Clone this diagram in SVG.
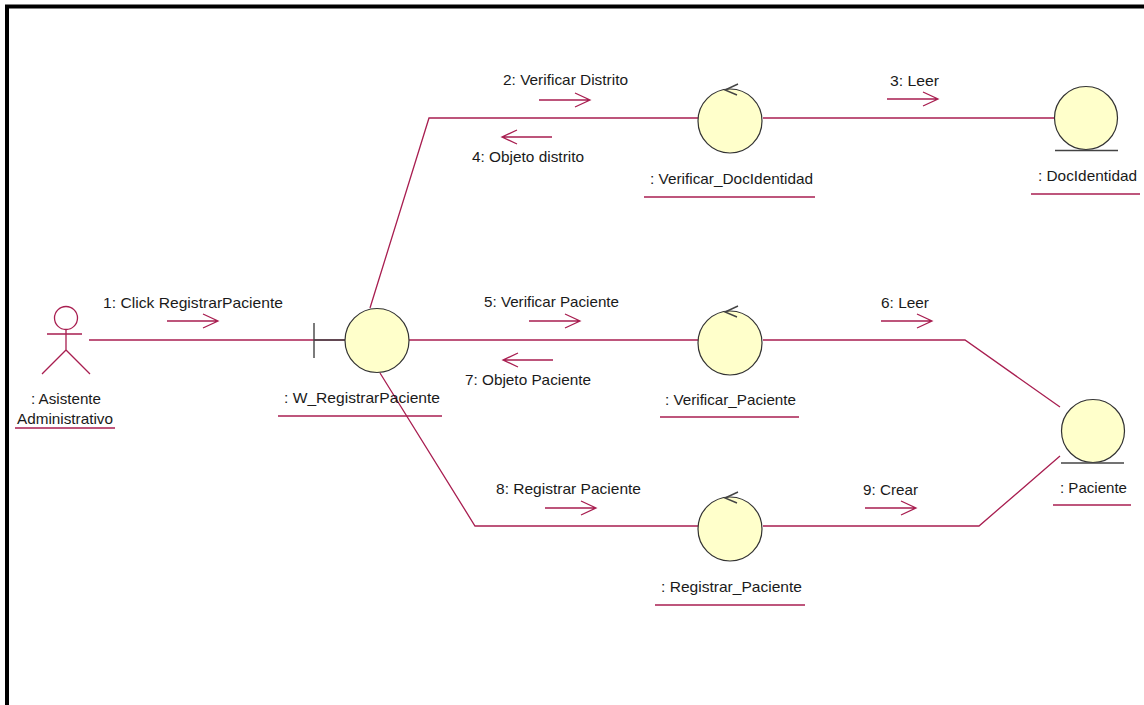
<svg xmlns="http://www.w3.org/2000/svg" width="1144" height="705" viewBox="0 0 1144 705">
<style>
text{font-family:"Liberation Sans",Arial,sans-serif;font-size:15px;fill:#1a1a1a}
.c{fill:none;stroke:#a81e50;stroke-width:1.3}
.u{stroke:#a81e50;stroke-width:1.3}
.o{fill:#ffffcb;stroke:#333;stroke-width:1.2}
.k{fill:none;stroke:#444;stroke-width:1.4}
</style>
<defs>
<path id="ar" class="c" d="M0 0H51M36 -7L51 0L36 7"/>
<path id="al" class="c" d="M0 0H-50M-35 -7L-50 0L-35 7"/>
</defs>
<rect width="1144" height="705" fill="#fff"/>
<path d="M7 705V6.500H1144" fill="none" stroke="#000" stroke-width="4"/>
<g id="connectors">
<path class="c" d="M89 340H345"/>
<path class="c" d="M370 308L429 118H698"/>
<path class="c" d="M763 118H1054"/>
<path class="c" d="M409 340H698"/>
<path class="c" d="M763 340H965L1060 407"/>
<path class="c" d="M380 373L475 526H698"/>
<path class="c" d="M763 526H979L1060 456"/>
<use href="#ar" x="167" y="321"/><text x="103" y="308" textLength="180" lengthAdjust="spacingAndGlyphs">1: Click RegistrarPaciente</text>
<use href="#ar" x="539" y="100"/><text x="503" y="85" textLength="125" lengthAdjust="spacingAndGlyphs">2: Verificar Distrito</text>
<use href="#al" x="552" y="137"/><text x="472" y="162" textLength="112" lengthAdjust="spacingAndGlyphs">4: Objeto distrito</text>
<use href="#ar" x="887" y="99"/><text x="890" y="86" textLength="49" lengthAdjust="spacingAndGlyphs">3: Leer</text>
<use href="#ar" x="529" y="321"/><text x="484" y="307" textLength="135" lengthAdjust="spacingAndGlyphs">5: Verificar Paciente</text>
<use href="#al" x="553" y="360"/><text x="465" y="385" textLength="126" lengthAdjust="spacingAndGlyphs">7: Objeto Paciente</text>
<use href="#ar" x="881" y="321"/><text x="881" y="308" textLength="48" lengthAdjust="spacingAndGlyphs">6: Leer</text>
<use href="#ar" x="545" y="508"/><text x="496" y="494" textLength="145" lengthAdjust="spacingAndGlyphs">8: Registrar Paciente</text>
<use href="#ar" x="865" y="508"/><text x="863" y="495" textLength="55" lengthAdjust="spacingAndGlyphs">9: Crear</text>
</g>
<g id="actor">
<circle cx="66" cy="318" r="11.500" fill="none" class="u"/>
<path class="c" d="M66 330V350M47 334H82M42 374L66 350L90 374"/>
<text x="31" y="404" textLength="70" lengthAdjust="spacingAndGlyphs">: Asistente</text>
<text x="17" y="424" textLength="96" lengthAdjust="spacingAndGlyphs">Administrativo</text>
<path class="u" d="M15 428H115"/>
</g>
<g id="w-registrar">
<path class="k" d="M314 323V358M314 340H345"/>
<circle class="o" cx="377" cy="340.500" r="32"/>
<text x="284" y="403" textLength="156" lengthAdjust="spacingAndGlyphs">: W_RegistrarPaciente</text>
<path class="u" d="M278 416H442"/>
</g>
<g id="verificar-doc">
<circle class="o" cx="730" cy="121" r="32"/>
<path class="k" d="M738 84L725 90L737 95"/>
<text x="650" y="184" textLength="163" lengthAdjust="spacingAndGlyphs">: Verificar_DocIdentidad</text>
<path class="u" d="M644 197H815"/>
</g>
<g id="doc">
<circle class="o" cx="1086" cy="118" r="31.500"/>
<path class="k" d="M1055 150.500H1118"/>
<text x="1038" y="181" textLength="99" lengthAdjust="spacingAndGlyphs">: DocIdentidad</text>
<path class="u" d="M1031 194H1140"/>
</g>
<g id="verificar-paciente">
<circle class="o" cx="730" cy="343" r="32"/>
<path class="k" d="M738 306L725 312L737 317"/>
<text x="665" y="405" textLength="131" lengthAdjust="spacingAndGlyphs">: Verificar_Paciente</text>
<path class="u" d="M660 417H799"/>
</g>
<g id="paciente">
<circle class="o" cx="1093" cy="431" r="31.500"/>
<path class="k" d="M1061 463H1124"/>
<text x="1060" y="493" textLength="67" lengthAdjust="spacingAndGlyphs">: Paciente</text>
<path class="u" d="M1053 505H1131"/>
</g>
<g id="registrar-paciente">
<circle class="o" cx="730" cy="529" r="32"/>
<path class="k" d="M738 492L725 498L737 503"/>
<text x="661" y="592" textLength="141" lengthAdjust="spacingAndGlyphs">: Registrar_Paciente</text>
<path class="u" d="M655 605H805"/>
</g>
</svg>
